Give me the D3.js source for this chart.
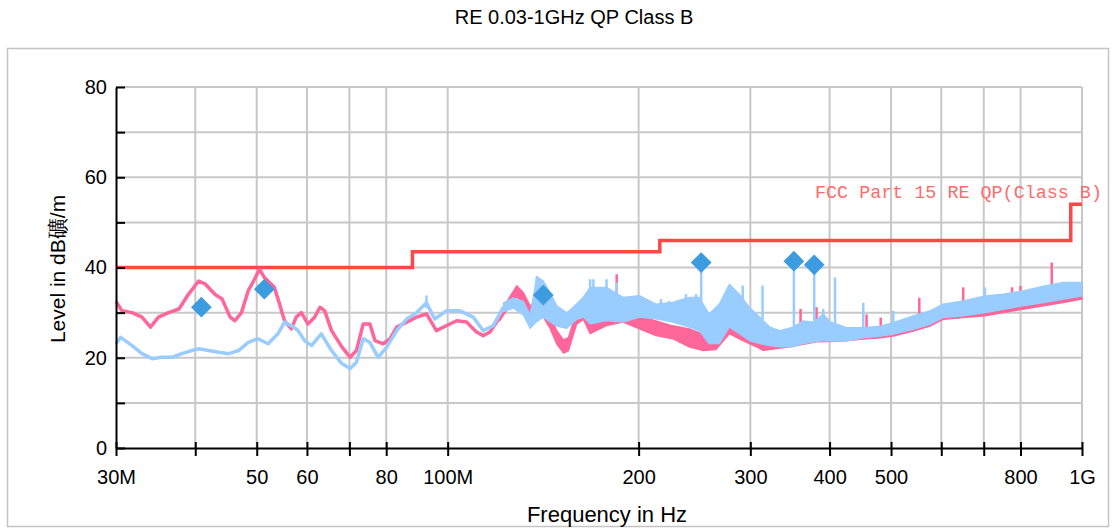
<!DOCTYPE html>
<html>
<head>
<meta charset="utf-8">
<script src="https://cdn.jsdelivr.net/npm/d3@7"></script>
<style>
body { margin: 0; background: #fff; }
svg { display: block; font-family: "Liberation Sans", Arial, sans-serif; }
</style>
</head>
<body>
<svg width="1116" height="529"></svg>
<script>
// values (MHz / dB)
// low band: traces are thin noisy lines
const pinkLineFreq = [30, 30.66, 31.8, 32.97, 34.0, 35.0, 36.3, 37.7, 39.0, 40.5, 41.5, 43.0, 44.1, 45.4, 46.2, 47.3, 48.5, 49.6, 50.5, 51.4, 53.3, 54.3, 55.3, 56.7, 57.7, 58.8, 60.2, 61.7, 62.9, 64.0, 65.6, 68.1, 70.2, 71.8, 73.6, 75.4, 76.8, 79.1, 81.1, 83.1, 86.2, 89.3, 92.6, 96.0, 99.5, 103.3, 107.1, 111.0, 113.8, 116.6, 120.9];
const pinkLineLevel = [32.5, 30.4, 30.0, 29.0, 26.8, 29.0, 30.0, 30.8, 34.0, 37.0, 36.3, 34.0, 33.0, 29.0, 28.2, 30.0, 34.9, 37.4, 39.6, 37.8, 35.6, 32.0, 28.2, 26.4, 29.0, 30.0, 27.5, 29.0, 31.2, 30.4, 26.0, 22.4, 20.1, 21.6, 27.5, 27.5, 23.8, 23.1, 24.2, 26.8, 27.9, 29.0, 29.7, 26.0, 27.1, 28.2, 27.9, 25.7, 24.9, 25.7, 29.0];
const blueLineFreq = [30, 30.5, 31.8, 32.97, 34.2, 35.4, 36.7, 38.1, 39.5, 40.5, 42.0, 43.6, 45.2, 46.8, 48.5, 50.2, 52.1, 54.0, 55.3, 56.7, 58.1, 59.5, 61.0, 63.2, 65.6, 68.1, 70.2, 71.8, 73.6, 75.4, 77.7, 80.1, 83.1, 86.2, 89.3, 92.6, 95.4, 99.5, 104.5, 109.7, 113.8, 118.0, 122.4];
const blueLineLevel = [23.1, 24.5, 22.7, 20.9, 19.8, 20.1, 20.1, 20.9, 21.6, 22.0, 21.6, 21.2, 20.9, 21.6, 23.4, 24.2, 23.1, 25.3, 27.9, 27.1, 26.0, 23.8, 22.7, 25.3, 21.6, 18.7, 17.6, 19.0, 24.2, 23.4, 20.1, 22.3, 26.0, 28.6, 30.0, 32.2, 28.6, 30.4, 30.4, 29.0, 26.0, 27.1, 31.2];

// upper band: traces spread into wide noise bands (top / bottom edge)
const pinkBandFreq = [120.9, 125.4, 128.5, 131.6, 134.9, 138.2, 141.5, 145.0, 148.6, 152.2, 155.0, 159.8, 163.7, 167.7, 178.0, 189.0, 200.6, 213.0, 226.2, 240.3, 252.2, 264.8, 278.0, 291.8, 306.9, 314.4, 330.0, 346.4, 381.5, 414.2, 452.0, 480.2, 504.0, 542.0, 575.8, 604.3, 649.8, 703.2, 751.2, 805.0, 869, 934, 1000];
const pinkBandHi = [29.8, 33.6, 36.0, 34.5, 31.5, 33.0, 32.0, 29.5, 26.0, 24.0, 24.5, 30.5, 32.0, 32.0, 33.4, 31.2, 29.3, 28.2, 27.1, 26.4, 25.3, 24.6, 28.2, 27.9, 26.0, 24.6, 24.6, 25.3, 24.9, 25.3, 26.5, 26.8, 27.5, 29.0, 30.0, 31.5, 32.3, 33.3, 33.8, 34.5, 35.5, 36.3, 36.5];
const pinkBandLo = [28.2, 31.6, 33.5, 32.0, 29.0, 30.0, 29.0, 26.5, 23.0, 21.0, 21.5, 27.5, 28.5, 25.3, 27.1, 27.9, 26.4, 24.9, 24.2, 22.4, 21.6, 21.8, 25.3, 23.8, 22.4, 21.6, 22.0, 22.4, 23.5, 23.6, 24.1, 24.4, 24.8, 25.9, 27.0, 28.5, 28.9, 29.3, 30.0, 30.7, 31.5, 32.2, 33.0];
const blueBandFreq = [122.4, 126.9, 131.6, 134.9, 138.2, 141.5, 145.0, 148.6, 154.1, 159.8, 163.7, 167.7, 178.0, 189.0, 200.6, 213.0, 226.2, 240.3, 249.2, 258.4, 268.0, 278.0, 288.3, 298.9, 310.6, 322.1, 334.0, 350.5, 363.5, 377.0, 390.9, 400.4, 425.3, 452.0, 480.2, 504.0, 542.0, 575.8, 604.3, 649.8, 703.2, 751.2, 805.0, 869, 934, 1000];
const blueBandHi = [32.2, 33.3, 32.5, 29.5, 38.0, 37.0, 34.5, 31.5, 30.0, 32.0, 33.5, 35.6, 35.6, 33.4, 33.8, 31.9, 32.3, 33.4, 33.4, 29.7, 31.9, 36.3, 34.1, 31.2, 29.0, 26.8, 26.0, 26.8, 28.2, 27.9, 29.7, 28.0, 26.7, 26.7, 27.0, 27.8, 29.3, 30.4, 31.9, 32.6, 33.7, 34.1, 34.8, 35.9, 36.7, 36.7];
const blueBandLo = [30.2, 31.0, 29.5, 26.5, 28.0, 29.0, 28.0, 27.0, 26.5, 28.5, 29.0, 27.5, 28.2, 27.9, 29.0, 28.6, 27.9, 26.8, 26.0, 23.1, 23.1, 26.8, 25.3, 23.8, 23.1, 22.7, 22.4, 22.4, 23.1, 23.5, 23.8, 23.7, 23.7, 24.4, 24.8, 25.2, 26.3, 27.4, 28.9, 29.3, 30.0, 30.7, 31.5, 32.2, 33.0, 33.7];

// narrow spikes standing out of the noise
const pinkSpikeFreq = [184.7, 360, 381.5, 457.5, 481.6, 554, 649.8, 775.7, 800, 896];
const pinkSpikeTop  = [38.5, 30.8, 31.2, 29.6, 28.9, 33.3, 35.6, 35.6, 35.9, 41.1];
const pinkSpikeBase = [30, 23, 24, 25, 25, 27, 30, 31, 31, 33];
const blueSpikeFreq = [92.6, 138.2, 167.7, 169.7, 178.0, 184.7, 216.9, 223.5, 230.4, 237.5, 246.3, 251.0, 291.8, 313.6, 351.4, 378.3, 390.9, 408, 452, 504, 703];
const blueSpikeTop  = [33.8, 38.1, 37.4, 37.4, 37.4, 36.7, 33.0, 32.6, 32.6, 34.1, 34.1, 41.0, 36.0, 36.0, 41.4, 40.6, 30.8, 37.8, 32.2, 30.4, 35.6];
const blueSpikeBase = [31, 30, 30, 30, 30, 30, 29, 29, 29, 29, 28, 27, 28, 25, 24, 24, 26, 25, 25, 26, 31];

// QP peaks
const markerFreq  = [40.9, 51.4, 141.5, 251.0, 351.4, 378.3];
const markerLevel = [31.2, 35.2, 33.9, 41.1, 41.4, 40.6];

// FCC Part 15 class B limit
const limitFreq  = [30, 88, 88, 216, 216, 960, 960, 1000];
const limitLevel = [40, 40, 43.5, 43.5, 46, 46, 54, 54];

const xTicks = [30, 40, 50, 60, 70, 80, 100, 200, 300, 400, 500, 600, 700, 800, 1000];
const xLabels = {30: "30M", 50: "50", 60: "60", 80: "80", 100: "100M", 200: "200", 300: "300", 400: "400", 500: "500", 800: "800", 1000: "1G"};
const yTicks = [0, 10, 20, 30, 40, 50, 60, 70, 80];
const yLabels = {0: "0", 20: "20", 40: "40", 60: "60", 80: "80"};

let svg = d3.select("svg");
let x = d3.scaleLog().domain([30, 1000]).range([116, 1082]);
let y = d3.scaleLinear().domain([0, 80]).range([448, 87]);

// frame
svg.append("rect")
    .attr("x", 7.5).attr("y", 48.5)
    .attr("width", 1101).attr("height", 478)
    .attr("fill", "none")
    .attr("stroke", "#c4c4c4")
    .attr("stroke-width", 1.5);

svg.append("text")
    .attr("x", 574).attr("y", 24)
    .attr("text-anchor", "middle")
    .style("font-size", "20px")
    .text("RE 0.03-1GHz QP Class B");

// grid
let grid = svg.append("g").attr("stroke", "#c8c8c8").attr("stroke-width", 2);
grid.selectAll(".vg").data(xTicks.slice(1)).enter().append("line")
    .attr("x1", d => x(d)).attr("x2", d => x(d))
    .attr("y1", y(0)).attr("y2", y(80));
grid.selectAll(".hg").data(yTicks.slice(1)).enter().append("line")
    .attr("x1", x(30)).attr("x2", x(1000))
    .attr("y1", d => y(d)).attr("y2", d => y(d));

// limit line
svg.append("path")
    .datum(limitFreq.map((f, i) => [f, limitLevel[i]]))
    .attr("fill", "none")
    .attr("stroke", "#ff4747")
    .attr("stroke-width", 3.5)
    .attr("d", d3.line().x(d => x(d[0])).y(d => y(d[1])));

svg.append("text")
    .attr("x", 815).attr("y", 198)
    .attr("fill", "#ff6b6b")
    .style("font-family", "'Liberation Mono', monospace")
    .style("font-size", "18.4px")
    .text("FCC Part 15 RE QP(Class B)");

let band = d3.area()
    .x(d => x(d.f)).y0(d => y(d.lo)).y1(d => y(d.hi));
let line = d3.line()
    .x(d => x(d.f)).y(d => y(d.v));

function drawTrace(lf, lv, bf, hi, lo, sf, st, sb, color) {
    let g = svg.append("g");
    g.append("path")
        .datum(lf.map((f, i) => ({f: f, v: lv[i]})))
        .attr("fill", "none")
        .attr("stroke", color)
        .attr("stroke-width", 3.5)
        .attr("stroke-linejoin", "round")
        .attr("d", line);
    g.append("path")
        .datum(bf.map((f, i) => ({f: f, hi: hi[i], lo: lo[i]})))
        .attr("fill", color)
        .attr("stroke", color)
        .attr("stroke-width", 1.2)
        .attr("stroke-linejoin", "round")
        .attr("d", band);
    g.selectAll(".spike")
        .data(sf.map((f, i) => ({f: f, top: st[i], base: sb[i]})))
        .enter().append("line")
        .attr("x1", d => x(d.f)).attr("x2", d => x(d.f))
        .attr("y1", d => y(d.base)).attr("y2", d => y(d.top))
        .attr("stroke", color)
        .attr("stroke-width", 2.5);
}
drawTrace(pinkLineFreq, pinkLineLevel, pinkBandFreq, pinkBandHi, pinkBandLo,
    pinkSpikeFreq, pinkSpikeTop, pinkSpikeBase, "#ff6699");
drawTrace(blueLineFreq, blueLineLevel, blueBandFreq, blueBandHi, blueBandLo,
    blueSpikeFreq, blueSpikeTop, blueSpikeBase, "#99ccff");

// markers
svg.append("g").selectAll("path")
    .data(markerFreq.map((f, i) => [f, markerLevel[i]]))
    .enter().append("path")
    .attr("d", d3.symbol(d3.symbolSquare, 215))
    .attr("transform", d => "translate(" + x(d[0]) + "," + y(d[1]) + ") rotate(45)")
    .attr("fill", "#3d9be0");

// axes
let xAxis = svg.append("g")
    .attr("transform", "translate(0," + y(0) + ")")
    .call(d3.axisBottom(x).tickValues(xTicks).tickSize(8).tickSizeOuter(0)
        .tickFormat(d => xLabels[d] || ""));
xAxis.select(".domain").attr("stroke", "#000").attr("stroke-width", 2);
xAxis.selectAll(".tick line").attr("y1", -6).attr("stroke-width", 2);
xAxis.selectAll(".tick text").attr("y", 22).style("font-size", "20px")
    .style("font-family", "'Liberation Sans', Arial, sans-serif").attr("fill", "#000");

let yAxis = svg.append("g")
    .attr("transform", "translate(" + x(30) + ",0)")
    .call(d3.axisLeft(y).tickValues(yTicks).tickSize(6).tickSizeOuter(0)
        .tickFormat(d => yLabels[d] || ""));
yAxis.select(".domain").attr("stroke", "#000").attr("stroke-width", 2);
yAxis.selectAll(".tick line").attr("x2", 9).attr("stroke-width", 2);
yAxis.selectAll(".tick text").attr("x", -9).style("font-size", "20px")
    .style("font-family", "'Liberation Sans', Arial, sans-serif").attr("fill", "#000");

svg.append("text")
    .attr("x", 607).attr("y", 522)
    .attr("text-anchor", "middle")
    .style("font-size", "22px")
    .text("Frequency in Hz");

svg.append("text")
    .attr("transform", "translate(65,269) rotate(-90)")
    .attr("text-anchor", "middle")
    .style("font-size", "21px")
    .text("Level in dB礦/m");
</script>
</body>
</html>
